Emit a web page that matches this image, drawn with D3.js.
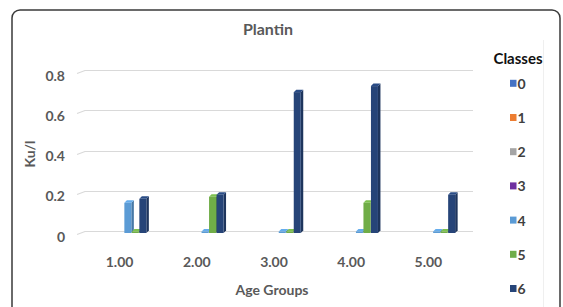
<!DOCTYPE html>
<html>
<head>
<meta charset="utf-8" />
<title>Plantin</title>
<style>
  html, body { margin: 0; padding: 0; background: #fff; }
  text { font-family: Lato, "Open Sans", sans-serif; }
</style>
</head>
<body>
<svg width="563" height="307"></svg>
<script src="https://cdn.jsdelivr.net/npm/d3@7"></script>
<script>
// data (null = no bar drawn)
var groups = ["1.00", "2.00", "3.00", "4.00", "5.00"];
var classes = ["0", "1", "2", "3", "4", "5", "6"];
var class0 = [null, null, null, null, null];
var class1 = [null, null, null, null, null];
var class2 = [null, null, null, null, null];
var class3 = [null, null, null, null, null];
var class4 = [0.15, 0, 0, 0, 0];
var class5 = [0, 0.18, 0, 0.15, 0];
var class6 = [0.17, 0.19, 0.70, 0.73, 0.19];
var yTicks = [0, 0.2, 0.4, 0.6, 0.8];
var colors = ["#4472C4", "#ED7D31", "#A5A5A5", "#7030A0", "#5B9BD5", "#70AD47", "#264478"];

var series = [class0, class1, class2, class3, class4, class5, class6];

var svg = d3.select("svg");

// outer frame
svg.append("rect")
    .attr("x", 12).attr("y", 10)
    .attr("width", 548).attr("height", 310)
    .attr("rx", 8)
    .attr("fill", "#fff")
    .attr("stroke", "#3a3a3a")
    .attr("stroke-width", 1.5);

// faint legend edge
svg.append("line")
    .attr("x1", 543.5).attr("x2", 543.5)
    .attr("y1", 40).attr("y2", 307)
    .attr("stroke", "#efefef");

var x0 = d3.scaleBand().domain(groups).range([82, 468]).paddingInner(0.32).paddingOuter(0.16);
var x1 = d3.scaleBand().domain(classes).range([0, x0.bandwidth()]);
var y = d3.scaleLinear().domain([0, 0.8]).range([231, 70]);

// gridlines with a little bend at the left (3D wall)
svg.append("g").selectAll("path")
    .data(yTicks)
    .enter().append("path")
    .attr("d", function (d) {
        var yy = Math.round(y(d)) + 0.5;
        return "M77," + (yy + 3) + " L85," + yy + " L473," + yy;
    })
    .attr("fill", "none")
    .attr("stroke", "#d9d9d9")
    .attr("stroke-width", 1.2);

// y tick labels
svg.append("g").selectAll("text")
    .data(yTicks)
    .enter().append("text")
    .attr("x", 65)
    .attr("y", function (d) { return y(d) + 10.5; })
    .attr("text-anchor", "end")
    .attr("font-size", 14)
    .attr("font-weight", 700)
    .attr("fill", "#595959")
    .text(function (d) { return d === 0 ? "0" : d.toFixed(1); });

// 3D-ish columns
var dx = 2.5, dy = -2.5, base = 233;
var bars = [];
series.forEach(function (vals, ci) {
    vals.forEach(function (v, gi) {
        if (v !== null) bars.push({ g: gi, c: ci, v: v });
    });
});

var barG = svg.append("g");
bars.forEach(function (b) {
    var left = x0(groups[b.g]) + x1(classes[b.c]);
    var w = x1.bandwidth() - 0.5;
    var top = b.v === 0 ? base - 1.5 : y(b.v) + 2;
    var col = d3.color(colors[b.c]);
    var g = barG.append("g");
    // side
    g.append("path")
        .attr("d", "M" + (left + w) + "," + base + " L" + (left + w + dx) + "," + (base + dy) +
            " L" + (left + w + dx) + "," + (top + dy) + " L" + (left + w) + "," + top + "Z")
        .attr("fill", col.darker(0.7));
    // top
    g.append("path")
        .attr("d", "M" + left + "," + top + " L" + (left + dx) + "," + (top + dy) +
            " L" + (left + w + dx) + "," + (top + dy) + " L" + (left + w) + "," + top + "Z")
        .attr("fill", col.brighter(0.3));
    // front
    g.append("rect")
        .attr("x", left).attr("y", top)
        .attr("width", w).attr("height", base - top)
        .attr("fill", col);
});

// x labels
svg.append("g").selectAll("text")
    .data(groups)
    .enter().append("text")
    .attr("x", function (d) { return x0(d) + x0.bandwidth() / 2 - 1; })
    .attr("y", 267)
    .attr("text-anchor", "middle")
    .attr("font-size", 14)
    .attr("font-weight", 700)
    .attr("fill", "#595959")
    .text(function (d) { return d; });

// titles
svg.append("text")
    .attr("x", 268).attr("y", 35)
    .attr("text-anchor", "middle")
    .attr("font-size", 16)
    .attr("font-weight", 700)
    .attr("fill", "#595959")
    .text("Plantin");

svg.append("text")
    .attr("x", 272).attr("y", 295)
    .attr("text-anchor", "middle")
    .attr("font-size", 14)
    .attr("font-weight", 700)
    .attr("fill", "#595959")
    .text("Age Groups");

svg.append("text")
    .attr("transform", "translate(35,154) rotate(-90)")
    .attr("text-anchor", "middle")
    .attr("font-size", 14)
    .attr("font-weight", 700)
    .attr("fill", "#595959")
    .text("Ku/l");

// legend
svg.append("text")
    .attr("x", 518).attr("y", 64)
    .attr("text-anchor", "middle")
    .attr("font-size", 15)
    .attr("font-weight", 700)
    .attr("fill", "#111")
    .text("Classes");

var leg = svg.append("g").selectAll("g")
    .data(classes)
    .enter().append("g")
    .attr("transform", function (d, i) { return "translate(510," + (83.3 + i * 34.2) + ")"; });

leg.append("rect")
    .attr("x", 0).attr("y", -3.5)
    .attr("width", 6.5).attr("height", 7)
    .attr("fill", function (d, i) { return colors[i]; });

leg.append("text")
    .attr("x", 7.5).attr("y", 5.5)
    .attr("font-size", 14)
    .attr("font-weight", 700)
    .attr("fill", "#404040")
    .text(function (d) { return d; });
</script>
</body>
</html>
